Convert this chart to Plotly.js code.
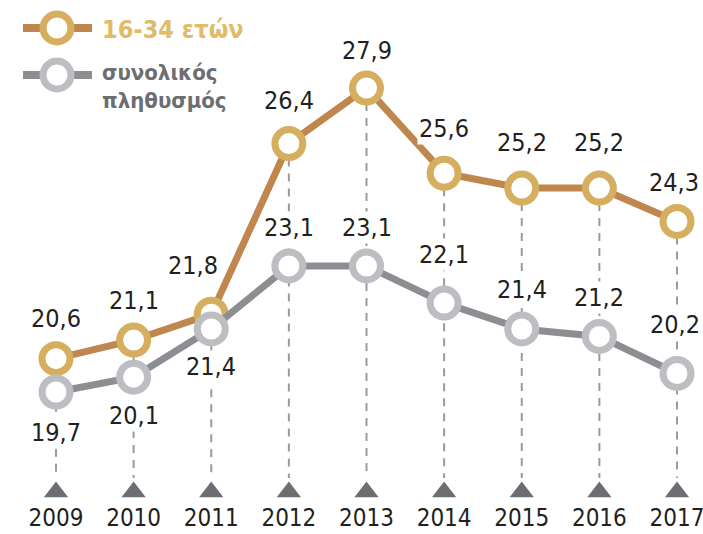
<!DOCTYPE html>
<html>
<head>
<meta charset="utf-8">
<script src="https://cdn.plot.ly/plotly-3.0.1.min.js"></script>
<style>html,body{margin:0;padding:0;background:#fff;}#chart{width:703px;height:534px;}</style>
</head>
<body>
<div id="chart"></div>
<script>
// ---- data ----
const years = [2009, 2010, 2011, 2012, 2013, 2014, 2015, 2016, 2017];
const yearLabels = ["2009", "2010", "2011", "2012", "2013", "2014", "2015", "2016", "2017"];
const youth = [20.6, 21.1, 21.8, 26.4, 27.9, 25.6, 25.2, 25.2, 24.3];
const total = [19.7, 20.1, 21.4, 23.1, 23.1, 22.1, 21.4, 21.2, 20.2];
const youthName = "16-34 ετών";
const totalNameLines = ["συνολικός", "πληθυσμός"];

// ---- label placement (pixels, relative to the marker) ----
const youthShiftY = [40, 40, 49, 43, 38, 45, 46, 46, 39];
const youthShiftX = [0, 0, -18, 0, 0, 0, 0, 0, -3];
const totalShiftY = [-40, -38, -38, 38, 38, 49, 39, 39, 49];
const totalShiftX = [0, 0, 0, 0, 0, 0, 0, 0, -2];

// ---- styles ----
const W = 703, H = 534;
const FONT = '"Liberation Sans Narrow", "DejaVu Sans Condensed", "Liberation Sans", sans-serif';
const ORANGE_LINE = '#BF874E', ORANGE_RING = '#D5AE5F', ORANGE_TEXT = '#E0BB68';
const GRAY_LINE = '#8D8E92', GRAY_RING = '#BDBEC2', GRAY_TEXT = '#6D6E71';
const DARK = '#231F20';

const xRange = [2008.2786, 2017.335];
const yRange = [15.870, 30.274];
const dashBottom = 17.38, triY = 17.0, yearY = 16.25;

const fmt = v => v.toFixed(1).replace('.', ',');

const traces = [
  { // triangles
    x: years, y: years.map(() => triY), mode: 'markers', type: 'scatter',
    marker: {symbol: 'triangle-up', size: 21, color: '#6D6E71', line: {width: 0}},
    hoverinfo: 'skip', showlegend: false
  },
  { // year labels
    x: years, y: years.map(() => yearY), mode: 'text', type: 'scatter',
    text: yearLabels, textfont: {family: FONT, size: 24, color: DARK},
    hoverinfo: 'skip', showlegend: false
  },
  {
    x: years, y: youth, mode: 'lines+markers', type: 'scatter', name: youthName,
    line: {color: ORANGE_LINE, width: 7},
    marker: {symbol: 'circle', size: 28, color: '#ffffff', line: {color: ORANGE_RING, width: 7}},
    showlegend: false
  },
  {
    x: years, y: total, mode: 'lines+markers', type: 'scatter', name: totalNameLines.join(' '),
    line: {color: GRAY_LINE, width: 7},
    marker: {symbol: 'circle', size: 28, color: '#ffffff', line: {color: GRAY_RING, width: 7}},
    showlegend: false
  }
];

const shapes = years.map((yr, i) => ({
  type: 'line', xref: 'x', yref: 'y', layer: 'below',
  x0: yr, x1: yr, y0: Math.max(youth[i], total[i]), y1: dashBottom,
  line: {color: '#9B9B9B', width: 2, dash: '8px,7px'}
}));

// legend (paper coordinates)
function px(x) { return x / W; }
function py(y) { return 1 - y / H; }
function legendItem(cy, lineColor, ringColor) {
  shapes.push({type: 'line', xref: 'paper', yref: 'paper', x0: px(23), x1: px(92), y0: py(cy), y1: py(cy),
    line: {color: lineColor, width: 8}});
  shapes.push({type: 'circle', xref: 'paper', yref: 'paper', x0: px(43), x1: px(71), y0: py(cy + 14), y1: py(cy - 14),
    fillcolor: '#ffffff', line: {color: ringColor, width: 7}});
}
legendItem(28, ORANGE_LINE, ORANGE_RING);
legendItem(75, GRAY_LINE, GRAY_RING);

const annotations = [];
youth.forEach((v, i) => annotations.push({
  x: years[i], y: v, xref: 'x', yref: 'y', text: fmt(v), showarrow: false,
  yshift: youthShiftY[i], xshift: youthShiftX[i], bgcolor: '#ffffff', borderpad: 1,
  font: {family: FONT, size: 25, color: DARK}
}));
total.forEach((v, i) => annotations.push({
  x: years[i], y: v, xref: 'x', yref: 'y', text: fmt(v), showarrow: false,
  yshift: totalShiftY[i], xshift: totalShiftX[i], bgcolor: '#ffffff', borderpad: 1,
  font: {family: FONT, size: 25, color: DARK}
}));
annotations.push({x: px(100), y: py(29), xref: 'paper', yref: 'paper', xanchor: 'left', yanchor: 'middle',
  text: '<b>' + youthName + '</b>', showarrow: false, font: {family: FONT, size: 25, color: ORANGE_TEXT}});
annotations.push({x: px(100), y: py(72), xref: 'paper', yref: 'paper', xanchor: 'left', yanchor: 'middle',
  text: '<b>' + totalNameLines[0] + '</b>', showarrow: false, font: {family: FONT, size: 22, color: GRAY_TEXT}});
annotations.push({x: px(100), y: py(100), xref: 'paper', yref: 'paper', xanchor: 'left', yanchor: 'middle',
  text: '<b>' + totalNameLines[1] + '</b>', showarrow: false, font: {family: FONT, size: 22, color: GRAY_TEXT}});

const layout = {
  width: W, height: H,
  margin: {l: 0, r: 0, t: 0, b: 0, pad: 0},
  paper_bgcolor: '#ffffff', plot_bgcolor: '#ffffff',
  xaxis: {range: xRange, visible: false, fixedrange: true},
  yaxis: {range: yRange, visible: false, fixedrange: true},
  showlegend: false,
  shapes: shapes,
  annotations: annotations
};

Plotly.newPlot('chart', traces, layout, {displayModeBar: false, staticPlot: true});
</script>
</body>
</html>
